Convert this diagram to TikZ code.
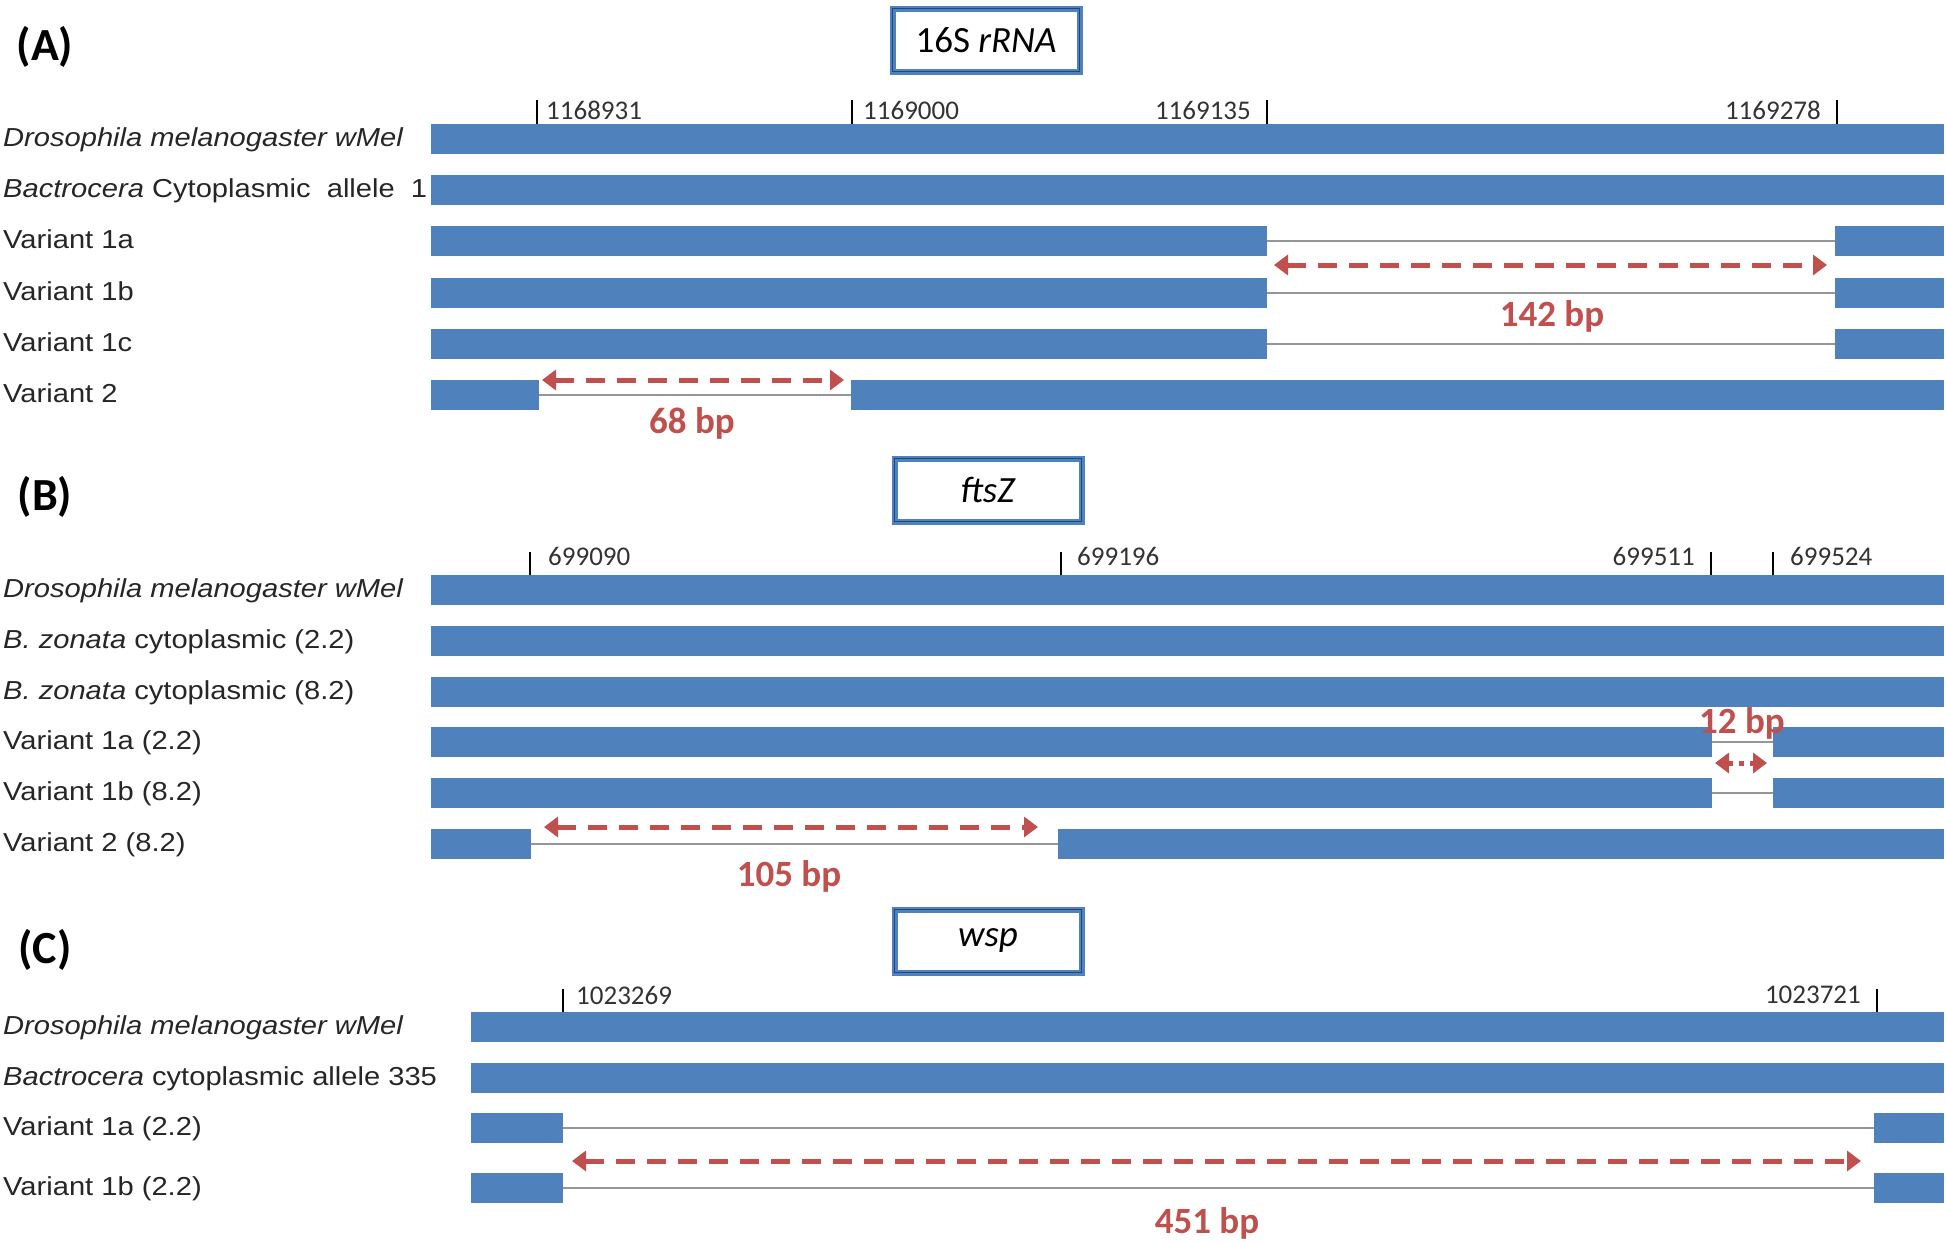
\documentclass[tikz,border=0pt]{standalone}
\usepackage{fontspec}
\setmainfont{Liberation Sans}
\newfontfamily\calfont{Carlito}
\usetikzlibrary{arrows.meta}
\definecolor{barblue}{RGB}{79,129,189}
\definecolor{bpred}{RGB}{192,80,77}
\definecolor{gapgray}{RGB}{150,150,150}
\definecolor{boxdark}{RGB}{31,73,125}
\newcommand\rl[1]{\scalebox{1.12}[1]{#1}}
\newcommand\fullbar[3]{\fill[bar] (#1,#3-15) rectangle (#2,#3+15);}
\newcommand\splitbar[5]{%
  \draw[gapline] (#2,#5) -- (#3,#5);
  \fill[bar] (#1,#5-15) rectangle (#2,#5+15);
  \fill[bar] (#3,#5-15) rectangle (#4,#5+15);}
\tikzset{
  bar/.style={fill=barblue},
  gapline/.style={draw=gapgray, line width=2.5pt},
  tickmark/.style={draw=black, line width=1.5pt},
  ticklab/.style={font=\calfont\fontsize{27}{30}\selectfont, text=black!80, inner sep=0pt},
  rowlab/.style={anchor=base west, inner sep=0pt, font=\fontsize{26}{30}\selectfont, text=black!85},
  panellab/.style={font=\calfont\bfseries\fontsize{46}{50}\selectfont, inner sep=0pt},
  genebox/.style={draw=barblue, line width=6pt, fill=white, inner sep=0pt,
    font=\calfont\fontsize{37}{40}\selectfont},
  bparrow/.style={draw=bpred, line width=5pt, dash pattern=on 19pt off 12pt,
    {Triangle[length=14pt,width=20pt]}-{Triangle[length=14pt,width=20pt]}},
  bplab/.style={font=\calfont\bfseries\fontsize{37}{40}\selectfont, text=bpred, inner sep=0pt},
}
\newcommand\genebox[4]{% name, x, y, text ; box 187x63 core
  \node[genebox, minimum width=187pt, minimum height=63pt] (#1) at (#2,#3) {#4};
  \draw[boxdark, line width=1.5pt] ([shift={(3,3)}]#1.north west) rectangle ([shift={(-3,-3)}]#1.south east);}
\begin{document}
\begin{tikzpicture}[x=1pt,y=-1pt]
\useasboundingbox (0,0) rectangle (1946,1243);
\fill[white] (0,0) rectangle (1946,1243);

% ================= Panel A =================
\node[panellab] (pA) at (45,47) {(A)};
\genebox{boxA}{986}{40}{16S \textit{rRNA}}

\node[rowlab] (a1) at (3,146) {\rl{\textit{Drosophila melanogaster wMel}}};
\node[rowlab] (a2) at (3,197) {\rl{\textit{Bactrocera} Cytoplasmic\ \ allele\ \ 1}};
\node[rowlab] (a3) at (3,248) {\rl{Variant 1a}};
\node[rowlab] (a4) at (3,300) {\rl{Variant 1b}};
\node[rowlab] (a5) at (3,351) {\rl{Variant 1c}};
\node[rowlab] (a6) at (3,402) {\rl{Variant 2}};

\fullbar{431}{1944}{139}
\fullbar{431}{1944}{190}
\splitbar{431}{1267}{1835}{1944}{241}
\splitbar{431}{1267}{1835}{1944}{293}
\splitbar{431}{1267}{1835}{1944}{344}
\splitbar{431}{539}{851}{1944}{395}

\draw[tickmark] (537,100) -- (537,124);
\draw[tickmark] (852,100) -- (852,124);
\draw[tickmark] (1267,100) -- (1267,124);
\draw[tickmark] (1837,100) -- (1837,124);
\node[ticklab, anchor=west] (ta1) at (546,110) {1168931};
\node[ticklab, anchor=west] (ta2) at (863,110) {1169000};
\node[ticklab, anchor=east] (ta3) at (1251,110) {1169135};
\node[ticklab, anchor=east] (ta4) at (1821,110) {1169278};

\coordinate (r142l) at (1274,265);
\coordinate (r142r) at (1827,265);
\draw[bparrow] (r142l) -- (r142r);
\node[bplab] (l142) at (1552,316) {142 bp};
\coordinate (r68l) at (542,380);
\coordinate (r68r) at (844,380);
\draw[bparrow] (r68l) -- (r68r);
\node[bplab] (l68) at (692,423) {68 bp};

% ================= Panel B =================
\node[panellab] (pB) at (45,497) {(B)};
\genebox{boxB}{988}{490}{\textit{ftsZ}}

\node[rowlab] (b1) at (3,597) {\rl{\textit{Drosophila melanogaster wMel}}};
\node[rowlab] (b2) at (3,648) {\rl{\textit{B. zonata} cytoplasmic (2.2)}};
\node[rowlab] (b3) at (3,699) {\rl{\textit{B. zonata} cytoplasmic (8.2)}};
\node[rowlab] (b4) at (3,749) {\rl{Variant 1a (2.2)}};
\node[rowlab] (b5) at (3,800) {\rl{Variant 1b (8.2)}};
\node[rowlab] (b6) at (3,851) {\rl{Variant 2 (8.2)}};

\fullbar{431}{1944}{590}
\fullbar{431}{1944}{641}
\fullbar{431}{1944}{692}
\splitbar{431}{1712}{1773}{1944}{742}
\splitbar{431}{1712}{1773}{1944}{793}
\splitbar{431}{531}{1058}{1944}{844}

\draw[tickmark] (530,552) -- (530,575);
\draw[tickmark] (1061,552) -- (1061,575);
\draw[tickmark] (1711,552) -- (1711,575);
\draw[tickmark] (1773,552) -- (1773,575);
\node[ticklab, anchor=west] (tb1) at (548,556) {699090};
\node[ticklab, anchor=west] (tb2) at (1077,556) {699196};
\node[ticklab, anchor=east] (tb3) at (1695,556) {699511};
\node[ticklab, anchor=west] (tb4) at (1790,556) {699524};

\coordinate (r12l) at (1715,763);
\coordinate (r12r) at (1767,763);
\draw[bparrow, dash pattern=on 5pt off 6pt] (r12l) -- (r12r);
\node[bplab] (l12) at (1742,723) {12 bp};
\coordinate (r105l) at (544,827);
\coordinate (r105r) at (1038,827);
\draw[bparrow] (r105l) -- (r105r);
\node[bplab] (l105) at (789,876) {105 bp};

% ================= Panel C =================
\node[panellab] (pC) at (45,950) {(C)};
\genebox{boxC}{988}{941}{\textit{wsp}}

\node[rowlab] (c1) at (3,1034) {\rl{\textit{Drosophila melanogaster wMel}}};
\node[rowlab] (c2) at (3,1085) {\rl{\textit{Bactrocera} cytoplasmic allele 335}};
\node[rowlab] (c3) at (3,1135) {\rl{Variant 1a (2.2)}};
\node[rowlab] (c4) at (3,1195) {\rl{Variant 1b (2.2)}};

\fullbar{471}{1944}{1027}
\fullbar{471}{1944}{1078}
\splitbar{471}{563}{1874}{1944}{1128}
\splitbar{471}{563}{1874}{1944}{1188}

\draw[tickmark] (563,989) -- (563,1012);
\draw[tickmark] (1877,989) -- (1877,1012);
\node[ticklab, anchor=west] (tc1) at (576,995) {1023269};
\node[ticklab, anchor=east] (tc2) at (1861,995) {1023721};

\coordinate (r451l) at (572,1161);
\coordinate (r451r) at (1861,1161);
\draw[bparrow] (r451l) -- (r451r);
\node[bplab] (l451) at (1207,1223) {451 bp};
\end{tikzpicture}
\end{document}
